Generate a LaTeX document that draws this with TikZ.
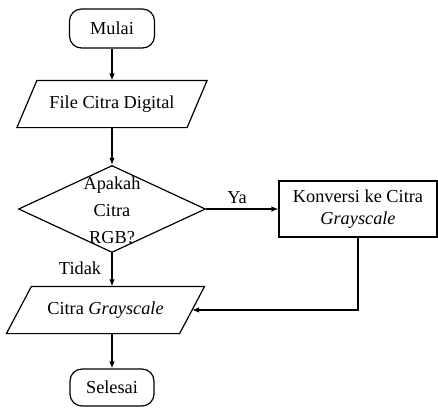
\documentclass[tikz,border=0pt]{standalone}
\usepackage{fontspec}
\setmainfont{Liberation Serif}
\usetikzlibrary{shapes.geometric,arrows.meta,calc}
\begin{document}
\begin{tikzpicture}[x=1pt,y=-1pt, line width=1.2pt,
  font=\fontsize{18.3}{22}\selectfont,
  term/.style={draw, rounded corners=12pt, minimum width=85pt, minimum height=39pt, inner sep=0pt},
  iobox/.style={inner sep=0pt, minimum height=46pt},
  proc/.style={draw, minimum width=158pt, minimum height=56pt, inner sep=0pt, align=center},
  decision/.style={draw, diamond, minimum width=187pt, minimum height=87pt, inner sep=0pt},
  lbl/.style={inner sep=0pt},
  arr/.style={-{Latex[length=7pt,width=5.5pt]}}]
\useasboundingbox (0,0) rectangle (438,407);

\node[term] (start) at (112,28.5) {Mulai};

\node[iobox, minimum width=189pt] (file) at (112,104) {File Citra Digital};
\draw ([xshift=20pt]file.north west) -- (file.north east) -- ([xshift=-20pt]file.south east) -- (file.south west) -- cycle;

\node[decision] (dec) at (112,209) {};
\node[lbl, align=center, font=\fontsize{18.3}{27}\selectfont] (dectext) at (112,210) {Apakah\\Citra\\RGB?};

\node[proc] (proc) at (358,209) {Konversi ke Citra\\\textit{Grayscale}};

\node[iobox, minimum width=197pt] (cg) at (105.5,310) {Citra \textit{Grayscale}};
\draw ([xshift=25pt]cg.north west) -- (cg.north east) -- ([xshift=-25pt]cg.south east) -- (cg.south west) -- cycle;
\coordinate (cgin) at ([xshift=-12.5pt]cg.east);

\node[term, minimum width=84pt, minimum height=37pt] (end) at (112,387.5) {Selesai};

\node[lbl] (ya) at (237,198) {Ya};
\node[lbl] (tidak) at (80,268) {Tidak};

\draw[arr] (start.south) -- (file.north -| start.south);
\draw[arr] (file.south -| dec.north) -- (dec.north);
\draw[arr] (dec.east) -- (proc.west);
\draw[arr] (dec.south) -- (dec.south |- cg.north);
\draw[arr] (proc.south) |- (cgin);
\draw[arr] (dec.south |- cg.south) -- (end.north);
\end{tikzpicture}
\end{document}
